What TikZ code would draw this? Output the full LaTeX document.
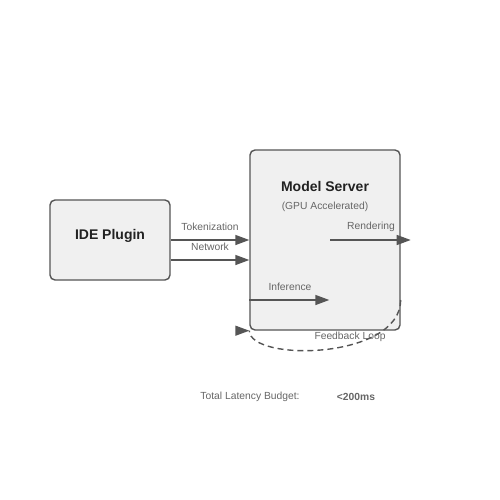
\documentclass[tikz,border=0pt]{standalone}
\usepackage{fontspec}
\setmainfont{Liberation Sans}
\definecolor{boxfill}{RGB}{240, 240, 240}
\definecolor{edgegray}{RGB}{85, 85, 85}
\definecolor{labelgray}{RGB}{102, 102, 102}
\definecolor{titledark}{RGB}{34, 34, 34}
\usetikzlibrary{arrows.meta, positioning, calc}

\begin{document}
\begin{tikzpicture}[x=1pt, y=-1pt,
    comp/.style={draw=edgegray, fill=boxfill, line width=1.4pt, rounded corners=5pt, inner sep=0pt},
    flow/.style={draw=edgegray, line width=1.4pt, -{Triangle[length=14pt, width=10pt]}},
    lbl/.style={font=\fontsize{10.3}{12}\selectfont, text=labelgray, inner sep=0pt},
    ttl/.style={font=\fontsize{14}{16}\selectfont\bfseries, text=titledark, inner sep=0pt}]
  \useasboundingbox (0,0) rectangle (500,500);

  % components
  \node[comp, minimum width=120pt, minimum height=80pt] (plugin) at (110, 240) {};
  \node[ttl] (pluginttl) at (110, 236) {IDE Plugin};
  \node[comp, minimum width=150pt, minimum height=180pt] (server) at (325, 240) {};
  \node[ttl] (serverttl) at (325, 186) {Model Server};
  \node[lbl] (serversub) at (325, 207) {(GPU Accelerated)};

  % anchors for the flows
  \coordinate (rendstart) at ([xshift=5pt]server.center);
  \coordinate (rendend) at ([xshift=10pt]server.east);
  \coordinate (infstart) at ([yshift=-60pt]server.west);
  \coordinate (infend) at ($(infstart)+(80,0)$);
  \coordinate (loopstart) at ([yshift=-60pt]server.east);
  \coordinate (loopend) at (server.south west);
  \coordinate (looptail) at ($(loopend)+(-13,0)$);

  % flows
  \draw[flow] (plugin.east) -- (server.west);
  \draw[flow] ([yshift=-20pt]plugin.east) -- ([yshift=-20pt]server.west);
  \draw[flow] (rendstart) -- (rendend);
  \draw[flow] (infstart) -- (infend);
  \draw[draw=edgegray, line width=1.4pt, dash pattern=on 6pt off 4pt] (loopstart) .. controls (400, 360) and (250, 362) .. (loopend);
  \draw[flow] (looptail) -- (loopend);

  % labels
  \node[lbl] (toklbl) at (210, 227) {Tokenization};
  \node[lbl] (netlbl) at (210, 247) {Network};
  \node[lbl] (rendlbl) at (371, 227) {Rendering};
  \node[lbl] (inflbl) at (290, 287) {Inference};
  \node[lbl] (looplbl) at (350, 337) {Feedback Loop};
  \node[lbl] (budgetlbl) at (250, 397) {Total Latency Budget:};
  \node[lbl, font=\fontsize{10.3}{12}\selectfont\bfseries] (budgetval) at (356, 397) {<200ms};
\end{tikzpicture}
\end{document}
